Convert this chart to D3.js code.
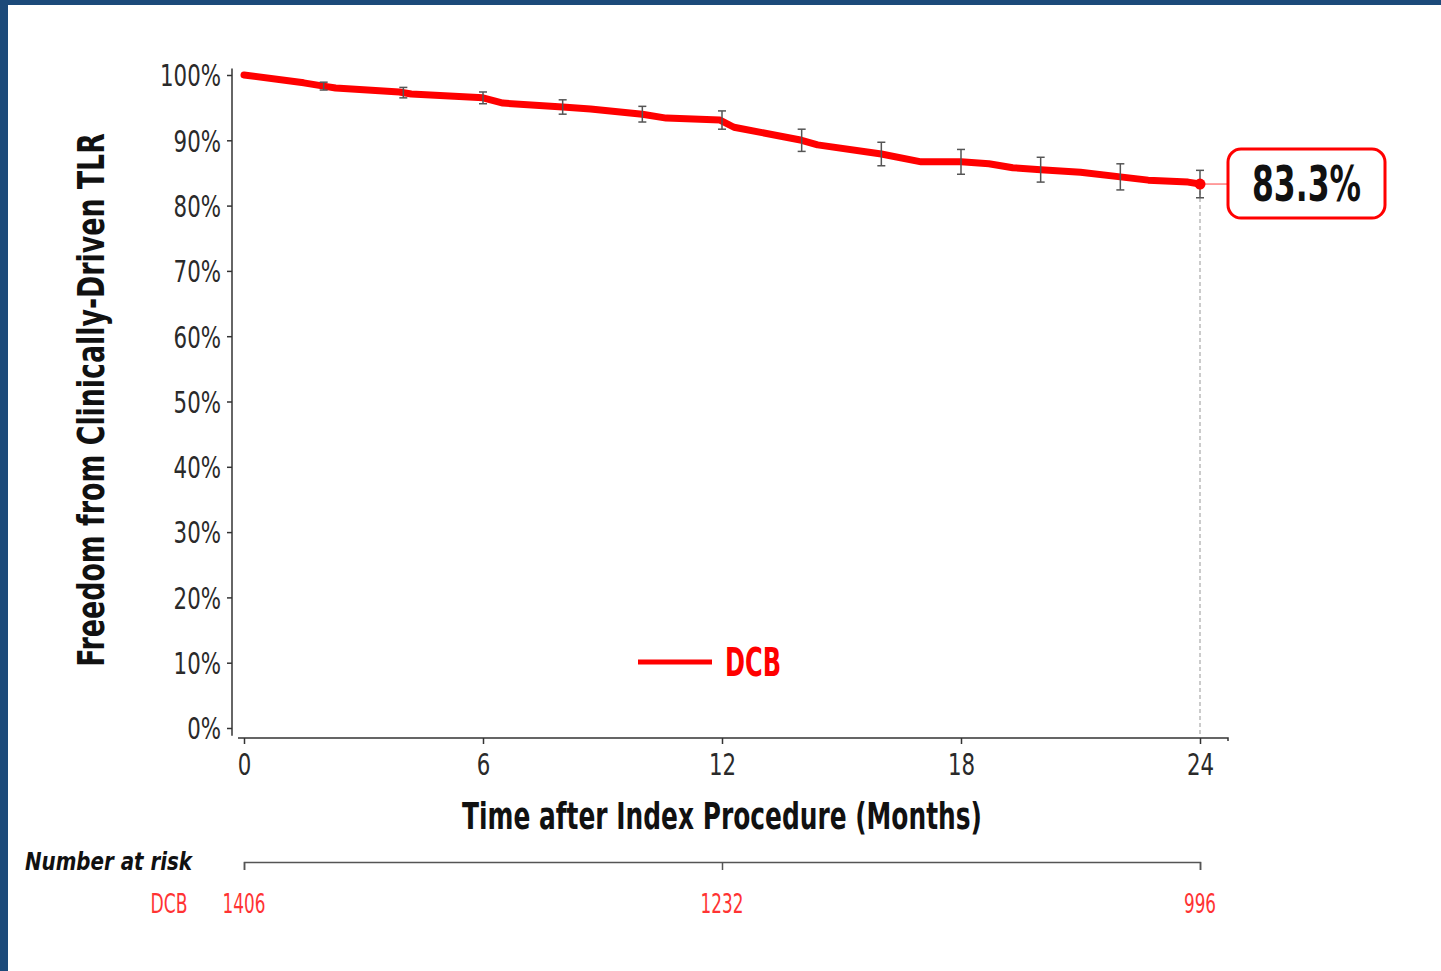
<!DOCTYPE html>
<html>
<head>
<meta charset="utf-8">
<script src="https://cdn.jsdelivr.net/npm/d3@7"></script>
<style>
  html, body { margin: 0; padding: 0; background: #1c4a7a; }
  svg { display: block; }
  .cond { font-family: 'Liberation Sans Narrow', 'DejaVu Sans Condensed', 'Arial Narrow', sans-serif; }
</style>
</head>
<body>
<svg id="chart" width="1441" height="971"></svg>
<script>
// KM curve for DCB (month, % free from CD-TLR)
var months   = [0, 1.5, 2.0, 2.3, 3.9, 4.2, 6.0, 6.5, 8.0, 8.7, 10.0, 10.6, 11.95, 12.3, 14.0, 14.4, 16.0, 17.0, 18.0, 18.7, 19.3, 20.0, 21.0, 22.0, 22.7, 23.7, 24];
var survival = [100, 98.8, 98.3, 98.0, 97.4, 97.1, 96.5, 95.7, 95.1, 94.8, 94.0, 93.4, 93.1, 92.0, 90.0, 89.3, 87.9, 86.7, 86.7, 86.4, 85.8, 85.5, 85.1, 84.4, 83.9, 83.6, 83.3];

// error bars
var barMonths = [2, 4, 6, 8, 10, 12, 14, 16, 18, 20, 22, 24];
var barMid    = [98.3, 97.3, 96.5, 95.1, 94.0, 93.1, 90.0, 87.9, 86.7, 85.5, 84.4, 83.3];
var barHalf   = [0.6, 0.8, 0.9, 1.1, 1.2, 1.4, 1.7, 1.8, 1.9, 1.9, 2.0, 2.1];

var yTicks = [0, 10, 20, 30, 40, 50, 60, 70, 80, 90, 100];
var xTicks = [0, 6, 12, 18, 24];

var riskMonths = [0, 12, 24];
var riskDCB    = [1406, 1232, 996];

var seriesName = 'DCB';
var finalLabel = '83.3%';

var RED = '#ff0000';

// narrow a text horizontally (the original uses a very condensed face)
function squeeze(sel, k) {
  sel.each(function(){
    var n = this.getComputedTextLength();
    d3.select(this)
      .attr('textLength', n * k)
      .attr('lengthAdjust', 'spacingAndGlyphs');
  });
}

var svg = d3.select('#chart');

// white panel over the blue slide background
svg.append('rect')
  .attr('x', 8).attr('y', 5)
  .attr('width', 1441 - 8).attr('height', 971 - 5)
  .attr('fill', '#ffffff');

var x = d3.scaleLinear().domain([0, 24]).range([244, 1200]);
var y = d3.scaleLinear().domain([0, 100]).range([728, 75]);

// y axis
var yAxis = svg.append('g')
  .attr('transform', 'translate(232,0)')
  .call(d3.axisLeft(y).tickValues(yTicks).tickSize(5).tickPadding(6)
    .tickFormat(function(d){ return d + '%'; }));
yAxis.select('.domain').remove();
yAxis.append('line')
  .attr('x1', 0).attr('x2', 0)
  .attr('y1', y(101)).attr('y2', y(-1.2))
  .attr('stroke', '#333').attr('stroke-width', 1.5);
yAxis.selectAll('.tick line').attr('stroke', '#333').attr('stroke-width', 1.5);
yAxis.selectAll('.tick text')
  .attr('class', 'cond')
  .attr('font-size', '30px')
  .attr('fill', '#2a2a2a')
  .attr('dy', '0.36em')
  .call(squeeze, 0.79);

// x axis
var xAxis = svg.append('g')
  .attr('transform', 'translate(0,738)')
  .call(d3.axisBottom(x).tickValues(xTicks).tickSize(6).tickPadding(10));
xAxis.select('.domain').remove();
xAxis.append('path')
  .attr('d', 'M' + (x(0) - 6) + ',0H' + (x(24) + 28) + 'V3')
  .attr('fill', 'none')
  .attr('stroke', '#333').attr('stroke-width', 1.5);
xAxis.selectAll('.tick line').attr('stroke', '#333').attr('stroke-width', 1.5);
xAxis.selectAll('.tick text')
  .attr('class', 'cond')
  .attr('font-size', '30px')
  .attr('fill', '#2a2a2a')
  .call(squeeze, 0.79);

// axis titles
svg.append('text')
  .attr('class', 'cond')
  .attr('x', x(12)).attr('y', 829)
  .attr('text-anchor', 'middle')
  .attr('font-size', '38px')
  .attr('font-weight', 'bold')
  .attr('fill', '#111')
  .attr('textLength', 520)
  .attr('lengthAdjust', 'spacingAndGlyphs')
  .text('Time after Index Procedure (Months)');

var yTitle = svg.append('text')
  .attr('class', 'cond')
  .attr('text-anchor', 'middle')
  .attr('font-size', '38px')
  .attr('font-weight', 'bold')
  .attr('fill', '#111')
  .text('Freedom from Clinically-Driven TLR');
var yTitleK = 534 / yTitle.node().getComputedTextLength();
yTitle.attr('transform', 'translate(104,400) rotate(-90) scale(' + yTitleK + ',1)');

// dashed drop line at 24 months
svg.append('line')
  .attr('x1', x(24)).attr('x2', x(24))
  .attr('y1', y(survival[survival.length - 1])).attr('y2', 737)
  .attr('stroke', '#bbb').attr('stroke-width', 1.5)
  .attr('stroke-dasharray', '4,3');

// KM line
var line = d3.line()
  .x(function(d, i){ return x(months[i]); })
  .y(function(d){ return y(d); });

svg.append('path')
  .datum(survival)
  .attr('d', line)
  .attr('fill', 'none')
  .attr('stroke', RED)
  .attr('stroke-width', 7)
  .attr('stroke-linejoin', 'round')
  .attr('stroke-linecap', 'round');

// error bars
var bars = svg.selectAll('.ebar')
  .data(barMonths)
  .enter().append('g')
  .attr('class', 'ebar')
  .attr('stroke', '#555')
  .attr('stroke-width', 1.5);

bars.append('line')
  .attr('x1', function(d){ return x(d); })
  .attr('x2', function(d){ return x(d); })
  .attr('y1', function(d, i){ return y(barMid[i] + barHalf[i]); })
  .attr('y2', function(d, i){ return y(barMid[i] - barHalf[i]); });
bars.append('line')
  .attr('x1', function(d){ return x(d) - 4; })
  .attr('x2', function(d){ return x(d) + 4; })
  .attr('y1', function(d, i){ return y(barMid[i] + barHalf[i]); })
  .attr('y2', function(d, i){ return y(barMid[i] + barHalf[i]); });
bars.append('line')
  .attr('x1', function(d){ return x(d) - 4; })
  .attr('x2', function(d){ return x(d) + 4; })
  .attr('y1', function(d, i){ return y(barMid[i] - barHalf[i]); })
  .attr('y2', function(d, i){ return y(barMid[i] - barHalf[i]); });

// end point + callout
var endX = x(months[months.length - 1]);
var endY = y(survival[survival.length - 1]);

svg.append('line')
  .attr('x1', endX).attr('x2', endX + 28)
  .attr('y1', endY).attr('y2', endY)
  .attr('stroke', '#ff8080').attr('stroke-width', 1.5);

svg.append('circle')
  .attr('cx', endX).attr('cy', endY)
  .attr('r', 5.5)
  .attr('fill', RED);

svg.append('rect')
  .attr('x', endX + 28).attr('y', endY - 35)
  .attr('width', 157).attr('height', 69)
  .attr('rx', 13).attr('ry', 13)
  .attr('fill', '#fff')
  .attr('stroke', RED).attr('stroke-width', 3);

svg.append('text')
  .attr('class', 'cond')
  .attr('x', endX + 28 + 157 / 2).attr('y', endY + 17)
  .attr('text-anchor', 'middle')
  .attr('font-size', '50px')
  .attr('font-weight', 'bold')
  .attr('fill', '#111')
  .attr('textLength', 109)
  .attr('lengthAdjust', 'spacingAndGlyphs')
  .text(finalLabel);

// legend
svg.append('line')
  .attr('x1', 638).attr('x2', 712)
  .attr('y1', 662).attr('y2', 662)
  .attr('stroke', RED).attr('stroke-width', 5);

svg.append('text')
  .attr('class', 'cond')
  .attr('x', 725).attr('y', 676)
  .attr('font-size', '39px')
  .attr('font-weight', 'bold')
  .attr('fill', RED)
  .attr('textLength', 56)
  .attr('lengthAdjust', 'spacingAndGlyphs')
  .text(seriesName);

// number at risk table
svg.append('text')
  .attr('class', 'cond')
  .attr('x', 25).attr('y', 870)
  .attr('font-size', '25px')
  .attr('font-weight', 'bold')
  .attr('font-style', 'italic')
  .attr('fill', '#111')
  .attr('textLength', 167)
  .attr('lengthAdjust', 'spacingAndGlyphs')
  .text('Number at risk');

var riskAxis = svg.append('g')
  .attr('transform', 'translate(0,862)')
  .call(d3.axisBottom(x).tickValues(riskMonths).tickSize(8).tickSizeOuter(8).tickFormat(''));
riskAxis.selectAll('path, line').attr('stroke', '#555').attr('stroke-width', 1.5);

svg.append('text')
  .attr('class', 'cond')
  .attr('x', 169).attr('y', 913)
  .attr('text-anchor', 'middle')
  .attr('font-size', '26px')
  .attr('fill', '#ff3333')
  .attr('textLength', 37)
  .attr('lengthAdjust', 'spacingAndGlyphs')
  .text(seriesName);

svg.selectAll('.risk')
  .data(riskDCB)
  .enter().append('text')
  .attr('class', 'cond risk')
  .attr('x', function(d, i){ return x(riskMonths[i]); })
  .attr('y', 913)
  .attr('text-anchor', 'middle')
  .attr('font-size', '26px')
  .attr('fill', '#ff3333')
  .text(function(d){ return d; })
  .call(squeeze, 0.72);
</script>
</body>
</html>
